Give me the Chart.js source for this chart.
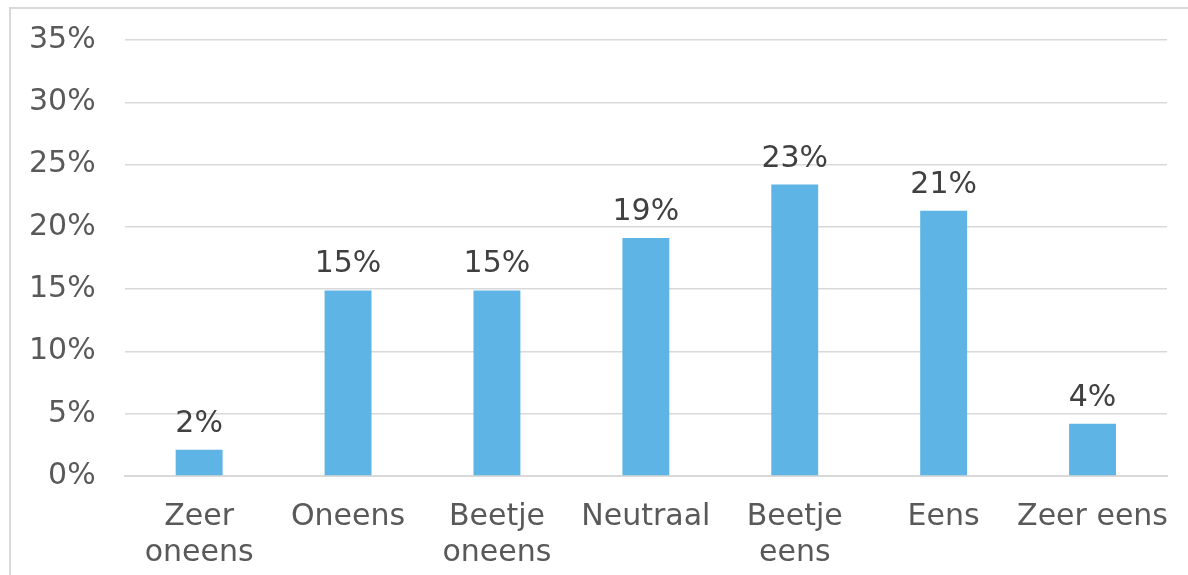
<!DOCTYPE html>
<html>
<head>
<meta charset="utf-8">
<script src="https://cdn.jsdelivr.net/npm/chart.js@4"></script>
<style>
  html, body { margin: 0; padding: 0; background: #fff; overflow: hidden; }
  #wrap { position: relative; width: 1188px; height: 575px; overflow: hidden; }
  #frame { position: absolute; left: 9px; top: 7px; right: 0; bottom: -5px;
           border-top: 2px solid #d9d9d9; border-left: 2px solid #d9d9d9; pointer-events: none; }
  canvas { position: absolute; left: 0; top: -7px; }
</style>
</head>
<body>
<div id="wrap">
  <canvas id="chart" width="1188" height="593"></canvas>
  <div id="frame"></div>
</div>
<script>
const categories = [['Zeer', 'oneens'], 'Oneens', ['Beetje', 'oneens'], 'Neutraal', ['Beetje', 'eens'], 'Eens', 'Zeer eens'];
const shares = [2.1, 14.9, 14.9, 19.1, 23.4, 21.3, 4.2];
const shareLabels = ['2%', '15%', '15%', '19%', '23%', '21%', '4%'];

const fontFamily = '"DejaVu Sans", Verdana, sans-serif';

// value labels above bars
const barLabels = {
    id: 'barLabels',
    afterDatasetsDraw(chart) {
        const ctx = chart.ctx;
        const meta = chart.getDatasetMeta(0);
        ctx.save();
        ctx.font = '30px ' + fontFamily;
        ctx.fillStyle = '#404040';
        ctx.textAlign = 'center';
        ctx.textBaseline = 'alphabetic';
        meta.data.forEach((bar, i) => {
            ctx.fillText(shareLabels[i], bar.x, bar.y - 18);
        });
        ctx.restore();
    }
};

const ctx = document.getElementById('chart').getContext('2d');
const chart = new Chart(ctx, {
    type: 'bar',
    data: {
        labels: categories,
        datasets: [{
            data: shares,
            backgroundColor: '#5eb4e5',
            barPercentage: 0.315,
            categoryPercentage: 1
        }]
    },
    options: {
        responsive: false,
        animation: false,
        layout: { padding: { left: 0, right: 21, top: 12, bottom: 0 } },
        plugins: {
            legend: { display: false },
            tooltip: { enabled: false }
        },
        scales: {
            x: {
                grid: { display: false },
                border: { color: '#d9d9d9', width: 2 },
                ticks: {
                    color: '#595959',
                    font: { family: fontFamily, size: 30 },
                    padding: 15,
                    maxRotation: 0,
                    autoSkip: false
                }
            },
            y: {
                min: 0,
                max: 35,
                grid: { color: '#d9d9d9', lineWidth: 1.5, drawTicks: false },
                border: { display: false },
                ticks: {
                    stepSize: 5,
                    color: '#595959',
                    font: { family: fontFamily, size: 30 },
                    padding: 29,
                    callback: v => v + '%'
                }
            }
        }
    },
    plugins: [barLabels]
});
</script>
</body>
</html>
